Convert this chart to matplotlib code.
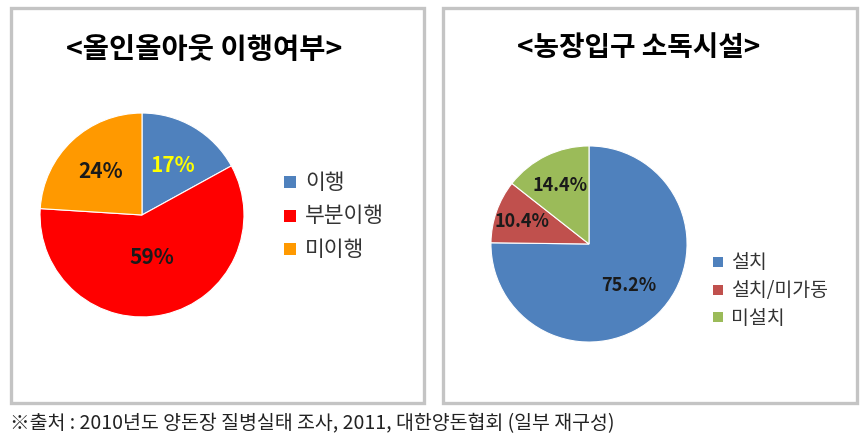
import numpy as np
import matplotlib
matplotlib.use("Agg")
import matplotlib.pyplot as plt
from matplotlib.patches import Rectangle

plt.rcParams['font.family'] = ['Noto Sans CJK KR', 'DejaVu Sans']

# Data
left_title = "<올인올아웃 이행여부>"
left_labels = ["이행", "부분이행", "미이행"]
left_values = [17, 59, 24]
left_colors = ["#4F81BD", "#FF0000", "#FF9900"]
left_text_colors = ["#FFFF00", "#1a1a1a", "#1a1a1a"]
left_label_dist = [0.58, 0.42, 0.6]

right_title = "<농장입구 소독시설>"
right_labels = ["설치", "설치/미가동", "미설치"]
right_values = [75.2, 10.4, 14.4]
right_colors = ["#4F81BD", "#C0504D", "#9BBB59"]
right_text_colors = ["#1a1a1a", "#1a1a1a", "#1a1a1a"]
right_label_dist = [0.58, 0.72, 0.67]

footnote = "※출처 : 2010년도 양돈장 질병실태 조사, 2011, 대한양돈협회 (일부 재구성)"

W, H = 861, 439
fig = plt.figure(figsize=(W / 100, H / 100), dpi=100)
fig.patch.set_facecolor("white")


def px_axes(cx, cy, r):
    return fig.add_axes([(cx - r) / W, (H - cy - r) / H, 2 * r / W, 2 * r / H])


def panel(x0, y0, x1, y1):
    fig.patches.append(Rectangle((x0 / W, 1 - y1 / H), (x1 - x0) / W, (y1 - y0) / H,
                                 transform=fig.transFigure, fill=False,
                                 edgecolor="#C4C4C4", linewidth=2.4))


def draw_pie(cx, cy, r, values, colors, labels, tcolors, dists, fs, fmt):
    ax = px_axes(cx, cy, r)
    wedges, _ = ax.pie(values, colors=colors, startangle=90, counterclock=False,
                       radius=1.0, wedgeprops=dict(linewidth=0.8, edgecolor="white"))
    for w, v, c, d in zip(wedges, values, tcolors, dists):
        ang = np.deg2rad((w.theta1 + w.theta2) / 2)
        ax.text(d * np.cos(ang), d * np.sin(ang), fmt.format(v), ha="center", va="center",
                fontsize=fs, fontweight="bold", color=c, family=['Noto Sans CJK KR', 'DejaVu Sans'])
    ax.set_xlim(-1.02, 1.02)
    ax.set_ylim(-1.02, 1.02)
    ax.set_aspect("equal")
    ax.axis("off")
    return wedges


panel(11, 9, 424, 404)
panel(443, 9, 857, 404)

fig.text(204 / W, 1 - 50 / H, left_title, ha="center", va="center", fontsize=20.5,
         fontweight="bold", color="black")
fig.text(639 / W, 1 - 48 / H, right_title, ha="center", va="center", fontsize=20,
         fontweight="bold", color="black")

lw = draw_pie(142, 216, 104, left_values, left_colors, left_labels, left_text_colors,
              left_label_dist, 15, "{:.0f}%")
rw = draw_pie(589, 245, 100, right_values, right_colors, right_labels, right_text_colors,
              right_label_dist, 13, "{:.1f}%")

# legends
for i, (lab, col) in enumerate(zip(left_labels, left_colors)):
    y = 183 + i * 33.5
    fig.patches.append(Rectangle((284 / W, 1 - (y + 6) / H), 12 / W, 12 / H,
                                 transform=fig.transFigure, facecolor=col, edgecolor="none"))
    fig.text(305 / W, 1 - y / H, lab, ha="left", va="center", fontsize=15.5, color="#333333")

for i, (lab, col) in enumerate(zip(right_labels, right_colors)):
    y = 263 + i * 27.5
    fig.patches.append(Rectangle((713 / W, 1 - (y + 5) / H), 10 / W, 10 / H,
                                 transform=fig.transFigure, facecolor=col, edgecolor="none"))
    fig.text(731 / W, 1 - y / H, lab, ha="left", va="center", fontsize=14, color="#333333")

fig.text(10 / W, 1 - 424 / H, footnote, ha="left", va="center", fontsize=14, color="#222222")

fig.savefig("out.png", dpi=100, facecolor="white")
